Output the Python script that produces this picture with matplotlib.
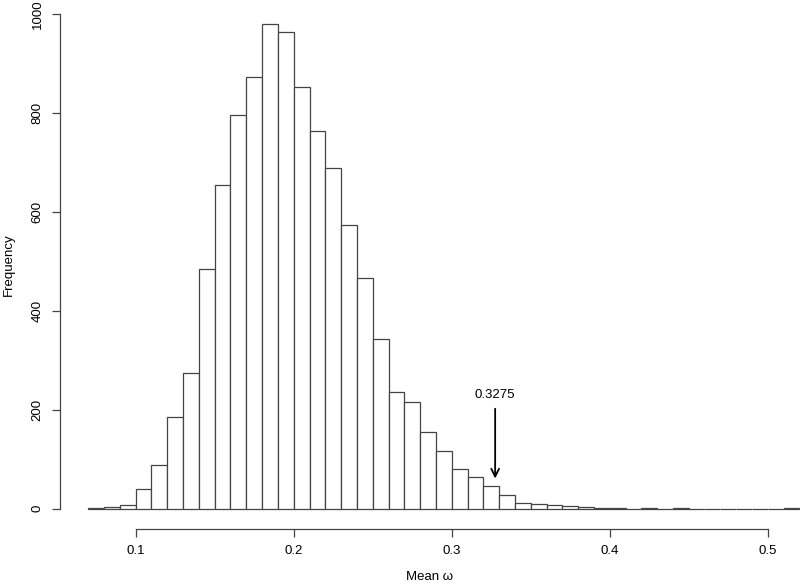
import numpy as np
from matplotlib import pyplot as plt

# histogram of mean omega, bins of width 0.01 starting at 0.07
bin_left = [0.07, 0.08, 0.09, 0.10, 0.11, 0.12, 0.13, 0.14, 0.15, 0.16,
            0.17, 0.18, 0.19, 0.20, 0.21, 0.22, 0.23, 0.24, 0.25, 0.26,
            0.27, 0.28, 0.29, 0.30, 0.31, 0.32, 0.33, 0.34, 0.35, 0.36,
            0.37, 0.38, 0.39, 0.40, 0.41, 0.42, 0.43, 0.44, 0.45, 0.46,
            0.47, 0.48, 0.49, 0.50, 0.51]
counts = [1, 4, 7, 39, 88, 185, 275, 484, 655, 795,
          873, 979, 964, 853, 763, 688, 574, 467, 343, 235,
          215, 156, 116, 81, 65, 45, 27, 12, 9, 7,
          5, 4, 2, 2, 0, 1, 0, 1, 0, 0,
          0, 0, 0, 0, 1]
BIN_WIDTH = 0.01

x_ticks = [0.1, 0.2, 0.3, 0.4, 0.5]
y_ticks = [0, 200, 400, 600, 800, 1000]

observed = 0.3275
observed_label = "0.3275"

plt.rcParams['font.family'] = ['Liberation Sans', 'DejaVu Sans']
plt.rcParams['font.size'] = 9.5

W, H = 800, 588
fig = plt.figure(figsize=(W / 100, H / 100), dpi=100)
# axes box in pixels: left 60, right 800, bottom 528.5, top 0
ax = fig.add_axes([60 / W, (H - 528.5) / H, 740 / W, 528.5 / H])

edge = '#444444'
ax.bar(bin_left, counts, width=BIN_WIDTH, align='edge',
       facecolor='white', edgecolor=edge, linewidth=0.9)

ax.set_xlim(0.05209, 0.52044)
ax.set_ylim(-40, 1028.3)

for s in ['top', 'right']:
    ax.spines[s].set_visible(False)
ax.spines['left'].set_bounds(0, 1000)
ax.spines['bottom'].set_bounds(0.1, 0.5)
for s in ['left', 'bottom']:
    ax.spines[s].set_color(edge)
    ax.spines[s].set_linewidth(0.9)

ax.set_xticks(x_ticks)
ax.set_xticklabels([str(t) for t in x_ticks])
ax.set_yticks(y_ticks)
ax.set_yticklabels([str(t) for t in y_ticks], rotation=90, va='center')
ax.tick_params(length=5.8, width=0.9, color=edge, pad=6)

ax.set_xlabel('Mean ω', labelpad=10)
ax.set_ylabel('Frequency', labelpad=12)

# arrow marking the observed value
ax.annotate('', xy=(observed, 61), xytext=(observed, 202),
            arrowprops=dict(arrowstyle='->', color='black', lw=1.3,
                            shrinkA=0, shrinkB=0, mutation_scale=14))
ax.text(observed, 230, observed_label, ha='center', va='center')

fig.savefig('out.png', dpi=100)
